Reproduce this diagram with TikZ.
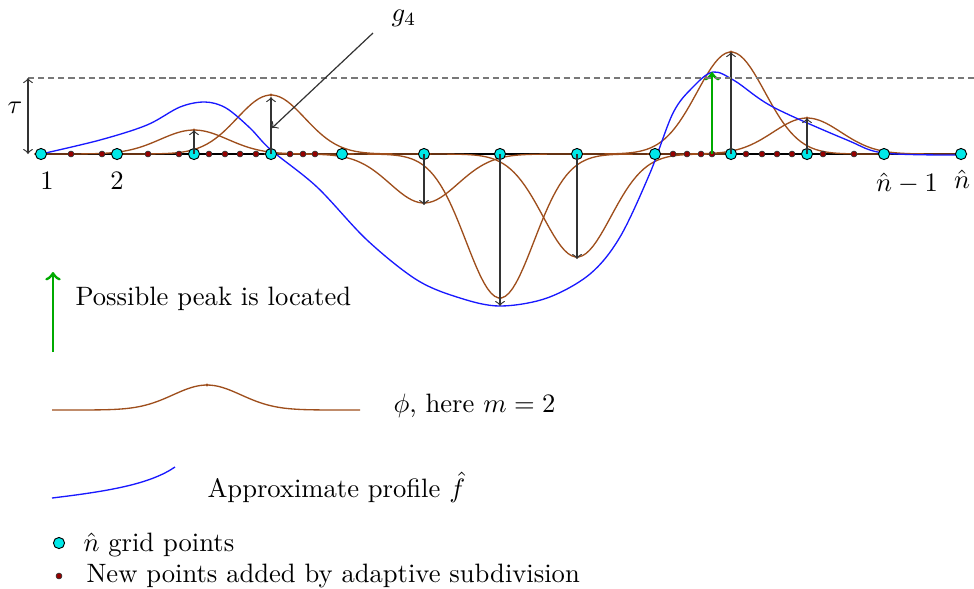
\documentclass[tikz,border=0pt]{standalone}
\usetikzlibrary{backgrounds}
\definecolor{phibrown}{RGB}{158,78,28}
\definecolor{gridcyan}{RGB}{0,232,232}
\definecolor{subred}{RGB}{150,0,0}
\definecolor{peakgreen}{RGB}{0,170,0}
\definecolor{profblue}{RGB}{25,25,255}
\definecolor{thrgray}{RGB}{120,120,120}

\begin{document}
\begin{tikzpicture}[x=0.376pt,y=-0.376pt,
  gridpt/.style={circle,draw=black,fill=gridcyan,inner sep=0pt,minimum size=4.2pt,line width=0.35pt},
  subpt/.style={circle,draw=black!80,fill=subred,inner sep=0pt,minimum size=2.2pt,line width=0.25pt},
  vec/.style={->,black!80,line width=0.45pt},
  peak/.style={->,peakgreen,line width=1.1pt},
  phi/.style={phibrown,line width=0.5pt},
  prof/.style={profblue,line width=0.5pt},
  thr/.style={thrgray,line width=0.5pt,dash pattern=on 2.3pt off 1.5pt},
  lbl/.style={anchor=west,inner sep=0pt}]
\useasboundingbox (0,0) rectangle (974,588);

% grid points and subdivision points on the axis
\foreach \p [count=\i] in {41,117,194,271,342,424,500,577,655,731,807,884,961}
  \node[gridpt] (g\i) at (\p,154) {};
\foreach \p [count=\i] in {71,102,148,179,209,225,240,256,290,303,315,673,687,701,712,746,762,777,792,823,854}
  \node[subpt] (s\i) at (\p,154) {};

\begin{scope}[on background layer]
\draw[line width=0.45pt] (g1.center) -- (g13.center);
% scaled copies of phi
\foreach \c/\a in {194/24,271/59,424/-49,500/-144,577/-103,731/102,807/36} {
  \draw[phi] plot[domain=\c-160:\c+160,samples=90] (\x,{154-(\a)*exp(-((\x-\c)/48)^2)});
  \fill[phibrown] (\c,154-\a) circle (1.6);
}
% approximate profile
\draw[prof] plot[smooth,tension=0.55] coordinates {(41,154) (100,140) (147,125) (180,107) (205,102)
  (226,108) (250,128) (271,150) (317,187) (367,240) (417,280) (460,298) (500,306) (547,298)
  (590,274) (620,237) (650,173) (673,113) (693,87) (713,72) (735,81) (773,107) (847,140)
  (884,153) (961,155)};
\end{scope}

% coefficients
\coordinate (t3) at (194,130);
\coordinate (t4) at (271,97);
\coordinate (t6) at (424,205);
\coordinate (t7) at (500,306);
\coordinate (t8) at (577,259);
\coordinate (t10) at (731,52);
\coordinate (t11) at (807,118);
\foreach \i in {3,4,6,7,8,10,11}
  \draw[vec] (g\i.center) -- (t\i);
\coordinate (pk) at (712,72);
\draw[peak] (s15.center) -- (pk);

% threshold tau
\coordinate (tautop) at (28,78);
\coordinate (taubot) at (28,154);
\coordinate (thrend) at (974,78);
\draw[thr] (tautop) -- (thrend);
\draw[vec,<->] (tautop) -- (taubot);
\node (taulab) at (15,108) {$\tau$};

% g_4 pointer
\node (glab) at (404,18) {$g_4$};
\coordinate (gtail) at (373,33);
\coordinate (gtip) at (272,128);
\draw[vec] (gtail) -- (gtip);

\node (n1) at (47,181) {1};
\node (n2) at (117,181) {2};
\node (nm) at (907,183) {$\hat n-1$};
\node (nn) at (962,179) {$\hat n$};

% legend
\coordinate (lg1) at (53,352);
\coordinate (lg2) at (53,272);
\draw[peak] (lg1) -- (lg2);
\node[lbl] (lpeak) at (75,299) {Possible peak is located};
\draw[phi] plot[domain=52:360,samples=90] (\x,{410-25*exp(-((\x-207)/48)^2)});
\fill[phibrown] (207,385) circle (1.6);
\node[lbl] (lphi) at (393,406) {$\phi$, here $m=2$};
\coordinate (lb1) at (52,498);
\coordinate (lb2) at (175,467);
\draw[prof] (lb1) .. controls (110,491) and (150,484) .. (lb2);
\node[lbl] (lprof) at (207,487) {Approximate profile $\hat f$};
\node[gridpt] (lgrid) at (59,543) {};
\node[lbl] (lgridt) at (83,545) {$\hat n$ grid points};
\node[subpt] (lsub) at (59,576) {};
\node[lbl] (lsubt) at (86,576) {New points added by adaptive subdivision};
\end{tikzpicture}
\end{document}
